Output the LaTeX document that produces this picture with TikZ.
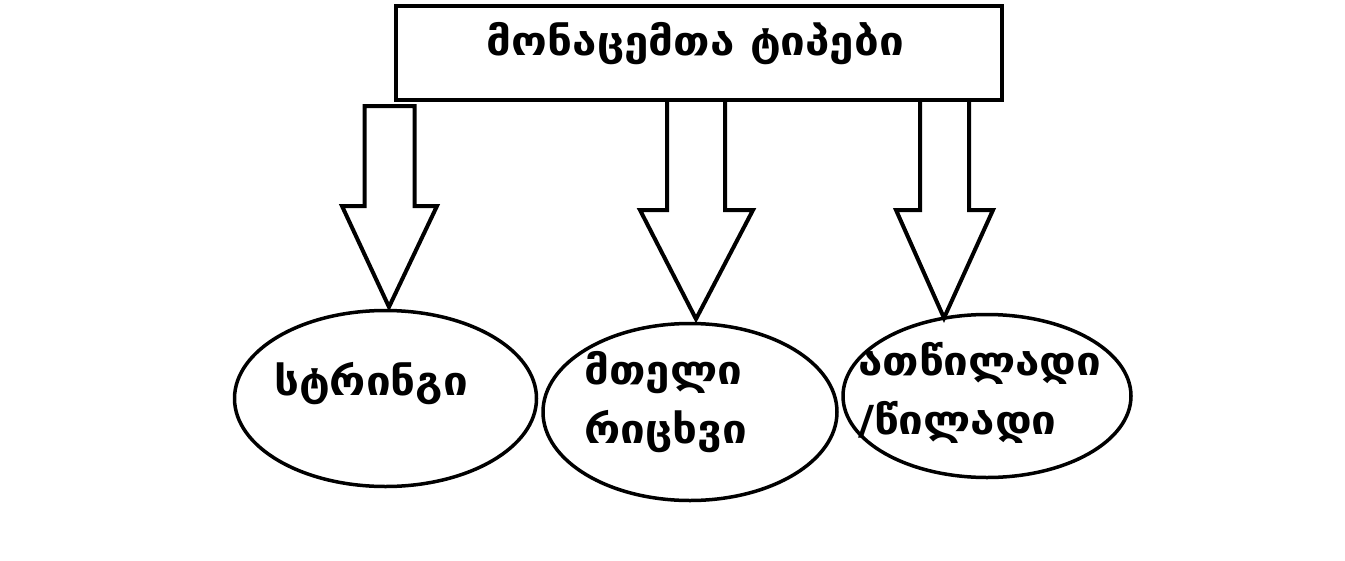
\documentclass[tikz,border=0pt]{standalone}
\usepackage{fontspec}
\setmainfont{DejaVu Sans}
\newfontfamily\geofont{DejaVu Sans Bold}[FakeStretch=1.1]
\usetikzlibrary{shapes.geometric}

\tikzset{
  typebox/.style={draw, line width=4pt, minimum width=606pt, minimum height=94pt, inner sep=0pt},
  typeoval/.style={draw, ellipse, line width=3.5pt, inner sep=0pt},
  typetext/.style={inner sep=0pt, font=\geofont\fontsize{40}{59}\selectfont, align=left},
  blockarrow/.style={draw, line width=4pt, line join=miter},
}

\begin{document}
\begin{tikzpicture}[x=1pt,y=-1pt]
\useasboundingbox (0,0) rectangle (1345,560);

% title box
\node[typebox] (types) at (699,53) {};
\node[typetext, anchor=base] (typesname) at (695.5,55) {მონაცემთა ტიპები};

% the three kinds
\node[typeoval, minimum width=302pt, minimum height=176pt] (str) at (385.5,398.5) {};
\node[typeoval, minimum width=294pt, minimum height=177pt] (int) at (690,412) {};
\node[typeoval, minimum width=288pt, minimum height=163pt] (flt) at (987,396) {};

\node[typetext, anchor=base west] (strname) at (274,395) {სტრინგი};
\node[typetext, anchor=north west] (intname) at (584,351) {მთელი\\რიცხვი};
\node[typetext, anchor=north west] (fltname) at (858,342) {ათწილადი\\/წილადი};

% block arrows
\draw[blockarrow] (364.5,106) -- (364.5,206) -- (342,206) -- (389,307)
  -- (437,206) -- (414.5,206) -- (414.5,106) -- cycle;
\foreach \sl/\sr/\hl/\hr/\tx/\ty in {667/725/640/753/696/319, 920/969/896/993/944/318}
  \draw[blockarrow] (\sl,100) -- (\sl,210) -- (\hl,210) -- (\tx,\ty)
    -- (\hr,210) -- (\sr,210) -- (\sr,100);

\end{tikzpicture}
\end{document}
